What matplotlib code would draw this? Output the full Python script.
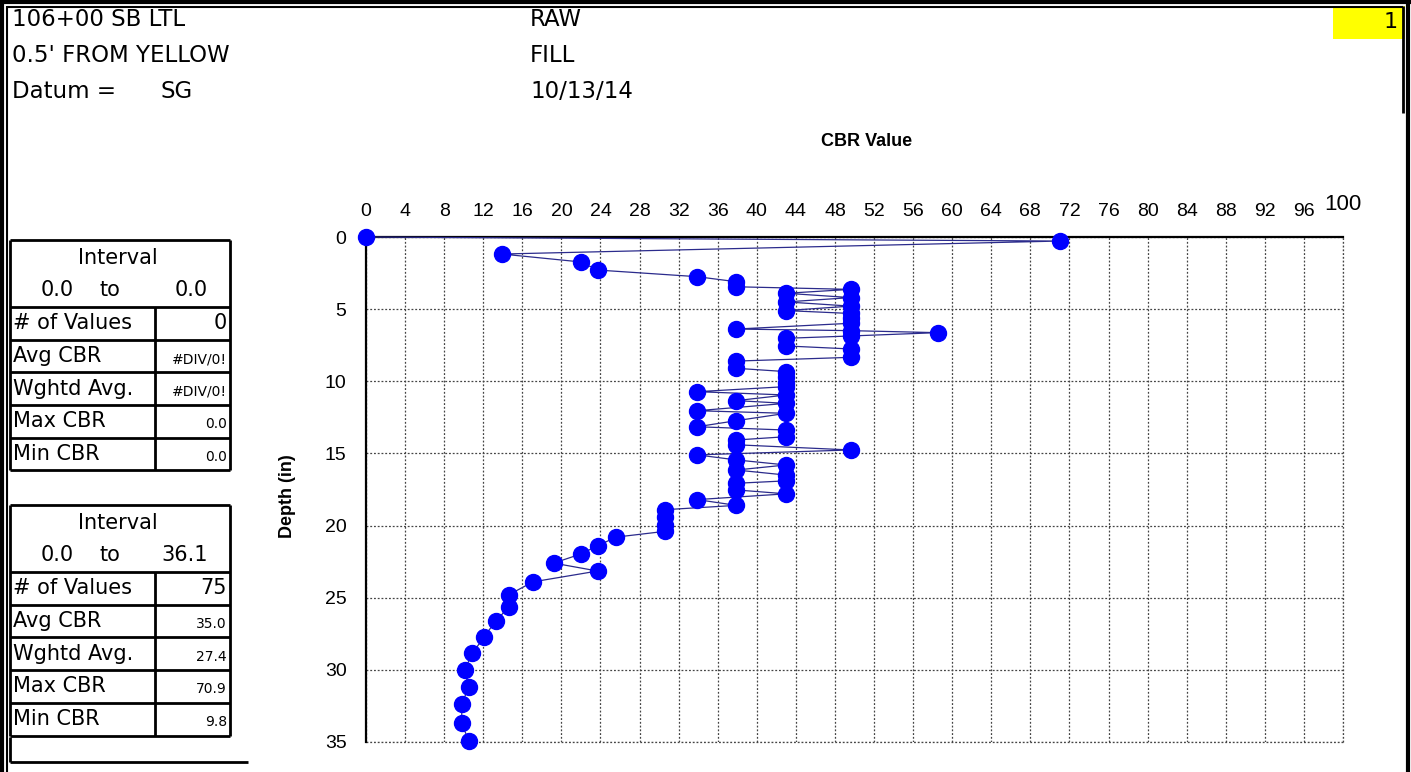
import matplotlib
matplotlib.use('Agg')
import matplotlib.pyplot as plt
from matplotlib.lines import Line2D
from matplotlib.patches import Rectangle

# Lecturas del ensayo (profundidad en pulgadas, valor CBR)
profundidad = [0.0, 0.28, 1.18, 1.73, 2.29, 2.75, 3.10, 3.45,
               3.63, 3.90, 4.20, 4.50, 4.79, 5.10, 5.30, 5.64, 5.98, 6.38,
               6.49, 6.63, 6.86, 7.02, 7.55, 7.76, 8.34, 8.60,
               9.10, 9.33, 9.70, 10.10, 10.37, 10.72, 10.95, 11.34, 11.53,
               12.04, 12.22, 12.73, 13.15, 13.38, 13.84, 14.07, 14.40, 14.76,
               15.10, 15.45, 15.80, 16.15, 16.50, 16.90, 17.07, 17.53, 17.80,
               18.20, 18.60, 18.90, 19.40, 19.96, 20.40, 20.80, 21.40, 21.97,
               22.60, 23.15, 23.90, 24.80, 25.66, 26.60, 27.70, 28.85, 30.00,
               31.20, 32.40, 33.70, 34.90]
cbr = [0.0, 71.0, 13.9, 22.0, 23.7, 33.9, 37.9, 37.9,
       49.6, 43.0, 49.6, 43.0, 49.6, 43.0, 49.6, 49.6, 49.6, 37.9,
       49.6, 58.5, 49.6, 43.0, 43.0, 49.6, 49.6, 37.9,
       37.9, 43.0, 43.0, 43.0, 43.0, 33.9, 43.0, 37.9, 43.0,
       33.9, 43.0, 37.9, 33.9, 43.0, 43.0, 37.9, 37.9, 49.6,
       33.9, 37.9, 43.0, 37.9, 43.0, 43.0, 37.9, 37.9, 43.0,
       33.9, 37.9, 30.6, 30.6, 30.6, 30.6, 25.6, 23.7, 22.0,
       19.2, 23.7, 17.1, 14.6, 14.6, 13.3, 12.1, 10.9, 10.1,
       10.5, 9.8, 9.8, 10.5]

x_ticks = list(range(0, 100, 4))
y_ticks = [0, 5, 10, 15, 20, 25, 30, 35]

encabezado_izq = ['106+00 SB LTL', "0.5' FROM YELLOW", 'Datum =']
encabezado_der = ['RAW', 'FILL', '10/13/14']
etiquetas = ['# of Values', 'Avg CBR', 'Wghtd Avg.', 'Max CBR', 'Min CBR']
tabla1 = ['0', '#DIV/0!', '#DIV/0!', '0.0', '0.0']
tabla2 = ['75', '35.0', '27.4', '70.9', '9.8']
intervalo1 = ('0.0', '0.0')
intervalo2 = ('0.0', '36.1')

W, H = 1411, 772
fig = plt.figure(figsize=(W / 100, H / 100), dpi=100)
fig.patch.set_facecolor('white')


def fx(x):
    return x / W


def fy(y):
    return 1 - y / H


def linea(x0, y0, x1, y1, lw=1.5):
    fig.add_artist(Line2D([fx(x0), fx(x1)], [fy(y0), fy(y1)], color='black',
                          lw=lw, transform=fig.transFigure, solid_capstyle='butt'))


def texto(x, y, s, size=15, ha='left', family='DejaVu Sans', **kw):
    fig.text(fx(x), fy(y), s, fontsize=size, ha=ha, va='center', family=family, **kw)


# grafico principal
ax = fig.add_axes([fx(366), fy(742), (1343 - 366) / W, (742 - 237) / H])
ax.plot(cbr, profundidad, color='#2b2b8c', lw=0.9, zorder=3, clip_on=False)
ax.plot(cbr, profundidad, 'o', color='#0000ff', ms=11.5, mec='#0000ff',
        zorder=4, clip_on=False)
ax.set_xlim(0, 100)
ax.set_ylim(35, 0)
ax.xaxis.tick_top()
ax.set_xticks(x_ticks + [100])
ax.set_xticklabels([str(t) for t in x_ticks] + [''])
ax.set_yticks(y_ticks)
ax.tick_params(axis='both', length=0, labelsize=14)
ax.tick_params(axis='x', pad=12)
ax.tick_params(axis='y', pad=14)
for lab in ax.get_xticklabels() + ax.get_yticklabels():
    lab.set_family('Liberation Sans')
estilo_grid = dict(color='#444444', lw=0.9, linestyle=(0, (1.5, 1.5)))
ax.grid(True, **estilo_grid)
ax.axhline(35, clip_on=False, zorder=1, **estilo_grid)
ax.axvline(100, clip_on=False, zorder=1, **estilo_grid)
ax.set_axisbelow(True)
ax.spines['right'].set_visible(False)
ax.spines['bottom'].set_visible(False)
ax.spines['top'].set_linewidth(1.6)
ax.spines['left'].set_linewidth(1.6)
ax.text(100, -1.5, '100', fontsize=16, family='Liberation Sans',
        ha='center', va='bottom', clip_on=False)

texto(867, 142, 'CBR Value', size=13, ha='center', family='Liberation Sans', weight='bold')
fig.text(fx(288), fy(496), 'Depth (in)', fontsize=13, family='Liberation Sans',
         weight='bold', rotation=90, ha='center', va='center')

# marco de la hoja
linea(1.5, 0, 1.5, H, lw=3)
linea(7, 6, 7, H, lw=1.5)
linea(0, 1.5, W, 1.5, lw=3)
linea(7, 7, 1403, 7, lw=1.5)
linea(1407.5, 0, 1407.5, H, lw=3)
linea(1403, 6, 1403, 113, lw=2)
fig.add_artist(Rectangle((fx(1333), fy(39)), (1405 - 1333) / W, 33 / H,
                         transform=fig.transFigure, facecolor='#ffff00',
                         edgecolor='none', zorder=0))
texto(1398, 22, '1', size=16, ha='right')

# encabezado
for i, s in enumerate(encabezado_izq):
    texto(12, 20 + i * 35.5, s, size=16.5)
texto(160, 91, 'SG', size=16.5)
for i, s in enumerate(encabezado_der):
    texto(530, 20 + i * 35.5, s, size=16.5)


# tablas
def tabla(top, inter, valores):
    filas = [top + 67 + k * 32.7 for k in range(6)]
    linea(10, top, 230, top, lw=2)
    linea(10, top, 10, filas[-1], lw=2)
    linea(230, top, 230, filas[-1], lw=2)
    linea(155, filas[0], 155, filas[-1], lw=2)
    for y in filas:
        linea(10, y, 230, y, lw=2)
    texto(118, top + 18, 'Interval', size=15, ha='center')
    texto(57, top + 50, inter[0], size=15, ha='center')
    texto(110, top + 50, 'to', size=15, ha='center')
    texto(208, top + 50, inter[1], size=15, ha='right')
    for k in range(5):
        yc = (filas[k] + filas[k + 1]) / 2
        texto(13, yc, etiquetas[k], size=15)
        pequeno = k > 0
        texto(227, yc + (3 if pequeno else 0), valores[k],
              size=10 if pequeno else 15, ha='right')


tabla(240, intervalo1, tabla1)
tabla(505, intervalo2, tabla2)
linea(10, 737, 10, 762, lw=2)
linea(10, 762, 248, 762, lw=2)

fig.savefig('out.png', dpi=100)
